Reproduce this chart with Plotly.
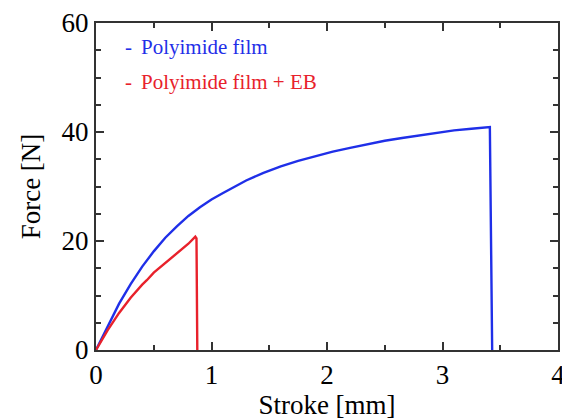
import plotly.graph_objects as go

# Polyimide film (blue)
blue_x = [0, 0.05, 0.1, 0.2, 0.3, 0.4, 0.5, 0.6, 0.7, 0.8, 0.9, 1.0, 1.1, 1.2, 1.3, 1.45, 1.6, 1.75,
          1.9, 2.05, 2.2, 2.35, 2.5, 2.65, 2.8, 2.95, 3.1, 3.25, 3.41, 3.43]
blue_y = [0, 2.2, 4.4, 8.5, 12.1, 15.3, 18.1, 20.6, 22.7, 24.6, 26.2, 27.6, 28.8, 30.0, 31.1, 32.5, 33.7, 34.7,
          35.6, 36.4, 37.1, 37.8, 38.4, 38.9, 39.4, 39.9, 40.3, 40.6, 40.9, 0]

# Polyimide film + EB (red)
red_x = [0, 0.05, 0.1, 0.2, 0.3, 0.4, 0.44, 0.5, 0.6, 0.7, 0.8, 0.86, 0.87, 0.877]
red_y = [0, 1.9, 3.6, 6.8, 9.6, 12.0, 12.8, 14.2, 16.0, 17.7, 19.5, 20.8, 20.5, 0]

labels = ["Polyimide film", "Polyimide film + EB"]
colors = ["#1f2fe8", "#e8212b"]

FONT = "Liberation Serif, Times New Roman, serif"

fig = go.Figure()
fig.add_trace(go.Scatter(x=blue_x, y=blue_y, mode="lines", name=labels[0],
                         line=dict(color=colors[0], width=2.4)))
fig.add_trace(go.Scatter(x=red_x, y=red_y, mode="lines", name=labels[1],
                         line=dict(color=colors[1], width=2.4)))

axis_common = dict(
    showline=True, linecolor="#333333", linewidth=2, mirror="ticks",
    ticks="inside", ticklen=8, tickwidth=1.5, tickcolor="#333333",
    showgrid=False, zeroline=False, automargin=False,
    tickfont=dict(family=FONT, size=27, color="black"),
)

fig.update_xaxes(range=[0, 4], dtick=1, tick0=0,
                 minor=dict(ticks="inside", ticklen=5, dtick=0.5, tickcolor="#333333", tickwidth=1.5),
                 title=dict(text="Stroke [mm]", font=dict(family=FONT, size=27, color="black"), standoff=10),
                 **axis_common)
fig.update_yaxes(range=[0, 60], dtick=20, tick0=0,
                 minor=dict(ticks="inside", ticklen=5, dtick=5, tickcolor="#333333", tickwidth=1.5),
                 title=dict(text="Force [N]", font=dict(family=FONT, size=27, color="black"), standoff=13),
                 **axis_common)

ys = [0.927, 0.82]
for lab, col, yy in zip(labels, colors, ys):
    fig.add_annotation(xref="paper", yref="paper", x=0.059, y=yy, text="-",
                       showarrow=False, xanchor="left", yanchor="middle",
                       font=dict(family=FONT, size=21, color=col))
    fig.add_annotation(xref="paper", yref="paper", x=0.093, y=yy, text=lab,
                       showarrow=False, xanchor="left", yanchor="middle",
                       font=dict(family=FONT, size=21, color=col))

fig.update_layout(
    width=562, height=412,
    margin=dict(l=88, r=12, t=15, b=70),
    paper_bgcolor="white", plot_bgcolor="white",
    showlegend=False,
    font=dict(family=FONT),
)

fig.write_html("out.html")
